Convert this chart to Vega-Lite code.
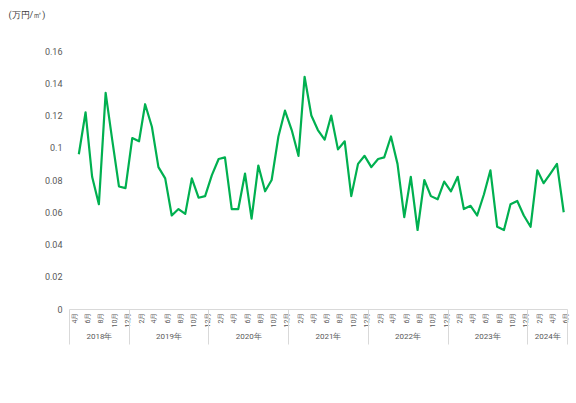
{
  "$schema": "https://vega.github.io/schema/vega-lite/v6.json",
  "width": 498,
  "height": 258,
  "autosize": {"type": "none"},
  "padding": {"left": 69, "top": 51, "right": 9, "bottom": 94},
  "background": "#ffffff",
  "data": {
    "values": [
      {"date": "2018-05-01", "price": 0.096},
      {"date": "2018-06-01", "price": 0.122},
      {"date": "2018-07-01", "price": 0.082},
      {"date": "2018-08-01", "price": 0.065},
      {"date": "2018-09-01", "price": 0.134},
      {"date": "2018-10-01", "price": 0.105},
      {"date": "2018-11-01", "price": 0.076},
      {"date": "2018-12-01", "price": 0.075},
      {"date": "2019-01-01", "price": 0.106},
      {"date": "2019-02-01", "price": 0.104},
      {"date": "2019-03-01", "price": 0.127},
      {"date": "2019-04-01", "price": 0.113},
      {"date": "2019-05-01", "price": 0.088},
      {"date": "2019-06-01", "price": 0.081},
      {"date": "2019-07-01", "price": 0.058},
      {"date": "2019-08-01", "price": 0.062},
      {"date": "2019-09-01", "price": 0.059},
      {"date": "2019-10-01", "price": 0.081},
      {"date": "2019-11-01", "price": 0.069},
      {"date": "2019-12-01", "price": 0.070},
      {"date": "2020-01-01", "price": 0.083},
      {"date": "2020-02-01", "price": 0.093},
      {"date": "2020-03-01", "price": 0.094},
      {"date": "2020-04-01", "price": 0.062},
      {"date": "2020-05-01", "price": 0.062},
      {"date": "2020-06-01", "price": 0.084},
      {"date": "2020-07-01", "price": 0.056},
      {"date": "2020-08-01", "price": 0.089},
      {"date": "2020-09-01", "price": 0.073},
      {"date": "2020-10-01", "price": 0.080},
      {"date": "2020-11-01", "price": 0.107},
      {"date": "2020-12-01", "price": 0.123},
      {"date": "2021-01-01", "price": 0.111},
      {"date": "2021-02-01", "price": 0.095},
      {"date": "2021-03-01", "price": 0.144},
      {"date": "2021-04-01", "price": 0.120},
      {"date": "2021-05-01", "price": 0.111},
      {"date": "2021-06-01", "price": 0.105},
      {"date": "2021-07-01", "price": 0.120},
      {"date": "2021-08-01", "price": 0.099},
      {"date": "2021-09-01", "price": 0.104},
      {"date": "2021-10-01", "price": 0.070},
      {"date": "2021-11-01", "price": 0.090},
      {"date": "2021-12-01", "price": 0.095},
      {"date": "2022-01-01", "price": 0.088},
      {"date": "2022-02-01", "price": 0.093},
      {"date": "2022-03-01", "price": 0.094},
      {"date": "2022-04-01", "price": 0.107},
      {"date": "2022-05-01", "price": 0.090},
      {"date": "2022-06-01", "price": 0.057},
      {"date": "2022-07-01", "price": 0.082},
      {"date": "2022-08-01", "price": 0.049},
      {"date": "2022-09-01", "price": 0.080},
      {"date": "2022-10-01", "price": 0.070},
      {"date": "2022-11-01", "price": 0.068},
      {"date": "2022-12-01", "price": 0.079},
      {"date": "2023-01-01", "price": 0.073},
      {"date": "2023-02-01", "price": 0.082},
      {"date": "2023-03-01", "price": 0.062},
      {"date": "2023-04-01", "price": 0.064},
      {"date": "2023-05-01", "price": 0.058},
      {"date": "2023-06-01", "price": 0.071},
      {"date": "2023-07-01", "price": 0.086},
      {"date": "2023-08-01", "price": 0.051},
      {"date": "2023-09-01", "price": 0.049},
      {"date": "2023-10-01", "price": 0.065},
      {"date": "2023-11-01", "price": 0.067},
      {"date": "2023-12-01", "price": 0.058},
      {"date": "2024-01-01", "price": 0.051},
      {"date": "2024-02-01", "price": 0.086},
      {"date": "2024-03-01", "price": 0.078},
      {"date": "2024-04-01", "price": 0.084},
      {"date": "2024-05-01", "price": 0.090},
      {"date": "2024-06-01", "price": 0.060}
    ]
  },
  "layer": [
    {
      "mark": {"type": "line", "color": "#00b050", "strokeWidth": 2.2, "strokeJoin": "round"},
      "encoding": {
        "x": {
          "field": "date",
          "type": "temporal",
          "scale": {
            "type": "utc",
            "domain": [
              {"year": 2018, "month": 3, "date": 17, "utc": true},
              {"year": 2024, "month": 6, "date": 16, "utc": true}
            ]
          },
          "axis": {
            "title": null,
            "orient": "bottom",
            "tickCount": {"interval": "month", "step": 1},
            "labelExpr": "utcmonth(datum.value) % 2 == 1 ? (utcmonth(datum.value) + 1) + '月' : ''",
            "labelAngle": -90,
            "labelOffset": 2,
            "labelOverlap": false,
            "labelFlush": false,
            "labelBound": false,
            "labelFontSize": 7,
            "labelPadding": 3,
            "ticks": false,
            "grid": false,
            "domainColor": "#d9d9d9"
          }
        },
        "y": {
          "field": "price",
          "type": "quantitative",
          "scale": {"domain": [0, 0.16], "nice": false},
          "axis": {
            "title": "(万円/㎡)",
            "values": [0, 0.02, 0.04, 0.06, 0.08, 0.1, 0.12, 0.14, 0.16],
            "format": "~g",
            "domain": false,
            "ticks": false,
            "grid": false,
            "labelPadding": 7,
            "labelFontSize": 9,
            "titleAngle": 0,
            "titleX": -61,
            "titleY": -37,
            "titleAlign": "left",
            "titleBaseline": "middle",
            "titleFontSize": 9,
            "titleFontWeight": "normal"
          }
        }
      }
    },
    {
      "mark": {"type": "point", "opacity": 0},
      "encoding": {
        "x": {
          "field": "date",
          "type": "temporal",
          "scale": {
            "type": "utc",
            "domain": [
              {"year": 2018, "month": 3, "date": 17, "utc": true},
              {"year": 2024, "month": 6, "date": 16, "utc": true}
            ]
          },
          "axis": {
            "title": null,
            "orient": "bottom",
            "values": [
              {"year": 2018, "month": 3, "date": 17, "utc": true},
              {"year": 2018, "month": 12, "date": 16, "hours": 12, "utc": true},
              {"year": 2019, "month": 12, "date": 16, "hours": 12, "utc": true},
              {"year": 2020, "month": 12, "date": 16, "hours": 12, "utc": true},
              {"year": 2021, "month": 12, "date": 16, "hours": 12, "utc": true},
              {"year": 2022, "month": 12, "date": 16, "hours": 12, "utc": true},
              {"year": 2023, "month": 12, "date": 16, "hours": 12, "utc": true},
              {"year": 2024, "month": 6, "date": 16, "utc": true}
            ],
            "labels": false,
            "domain": false,
            "grid": false,
            "ticks": true,
            "tickSize": 35,
            "tickColor": "#d9d9d9",
            "tickWidth": 1
          }
        }
      }
    },
    {
      "mark": {"type": "point", "opacity": 0},
      "encoding": {
        "x": {
          "field": "date",
          "type": "temporal",
          "scale": {
            "type": "utc",
            "domain": [
              {"year": 2018, "month": 3, "date": 17, "utc": true},
              {"year": 2024, "month": 6, "date": 16, "utc": true}
            ]
          },
          "axis": {
            "title": null,
            "orient": "bottom",
            "offset": 20,
            "values": [
              {"year": 2018, "month": 8, "date": 1, "utc": true},
              {"year": 2019, "month": 6, "date": 16, "utc": true},
              {"year": 2020, "month": 6, "date": 16, "utc": true},
              {"year": 2021, "month": 6, "date": 16, "utc": true},
              {"year": 2022, "month": 6, "date": 16, "utc": true},
              {"year": 2023, "month": 6, "date": 16, "utc": true},
              {"year": 2024, "month": 3, "date": 17, "utc": true}
            ],
            "labelExpr": "utcFormat(datum.value, '%Y') + '年'",
            "labelAngle": 0,
            "labelFontSize": 8,
            "labelPadding": 3,
            "labelOverlap": false,
            "labelFlush": false,
            "ticks": false,
            "domain": false,
            "grid": false
          }
        }
      }
    }
  ],
  "resolve": {"axis": {"x": "independent"}},
  "config": {
    "view": {"stroke": null},
    "font": "Liberation Sans Narrow, Roboto, sans-serif",
    "axis": {
      "labelColor": "#595959",
      "titleColor": "#404040",
      "labelFont": "Liberation Sans Narrow, Roboto, sans-serif",
      "titleFont": "Liberation Sans Narrow, Roboto, sans-serif"
    }
  }
}
